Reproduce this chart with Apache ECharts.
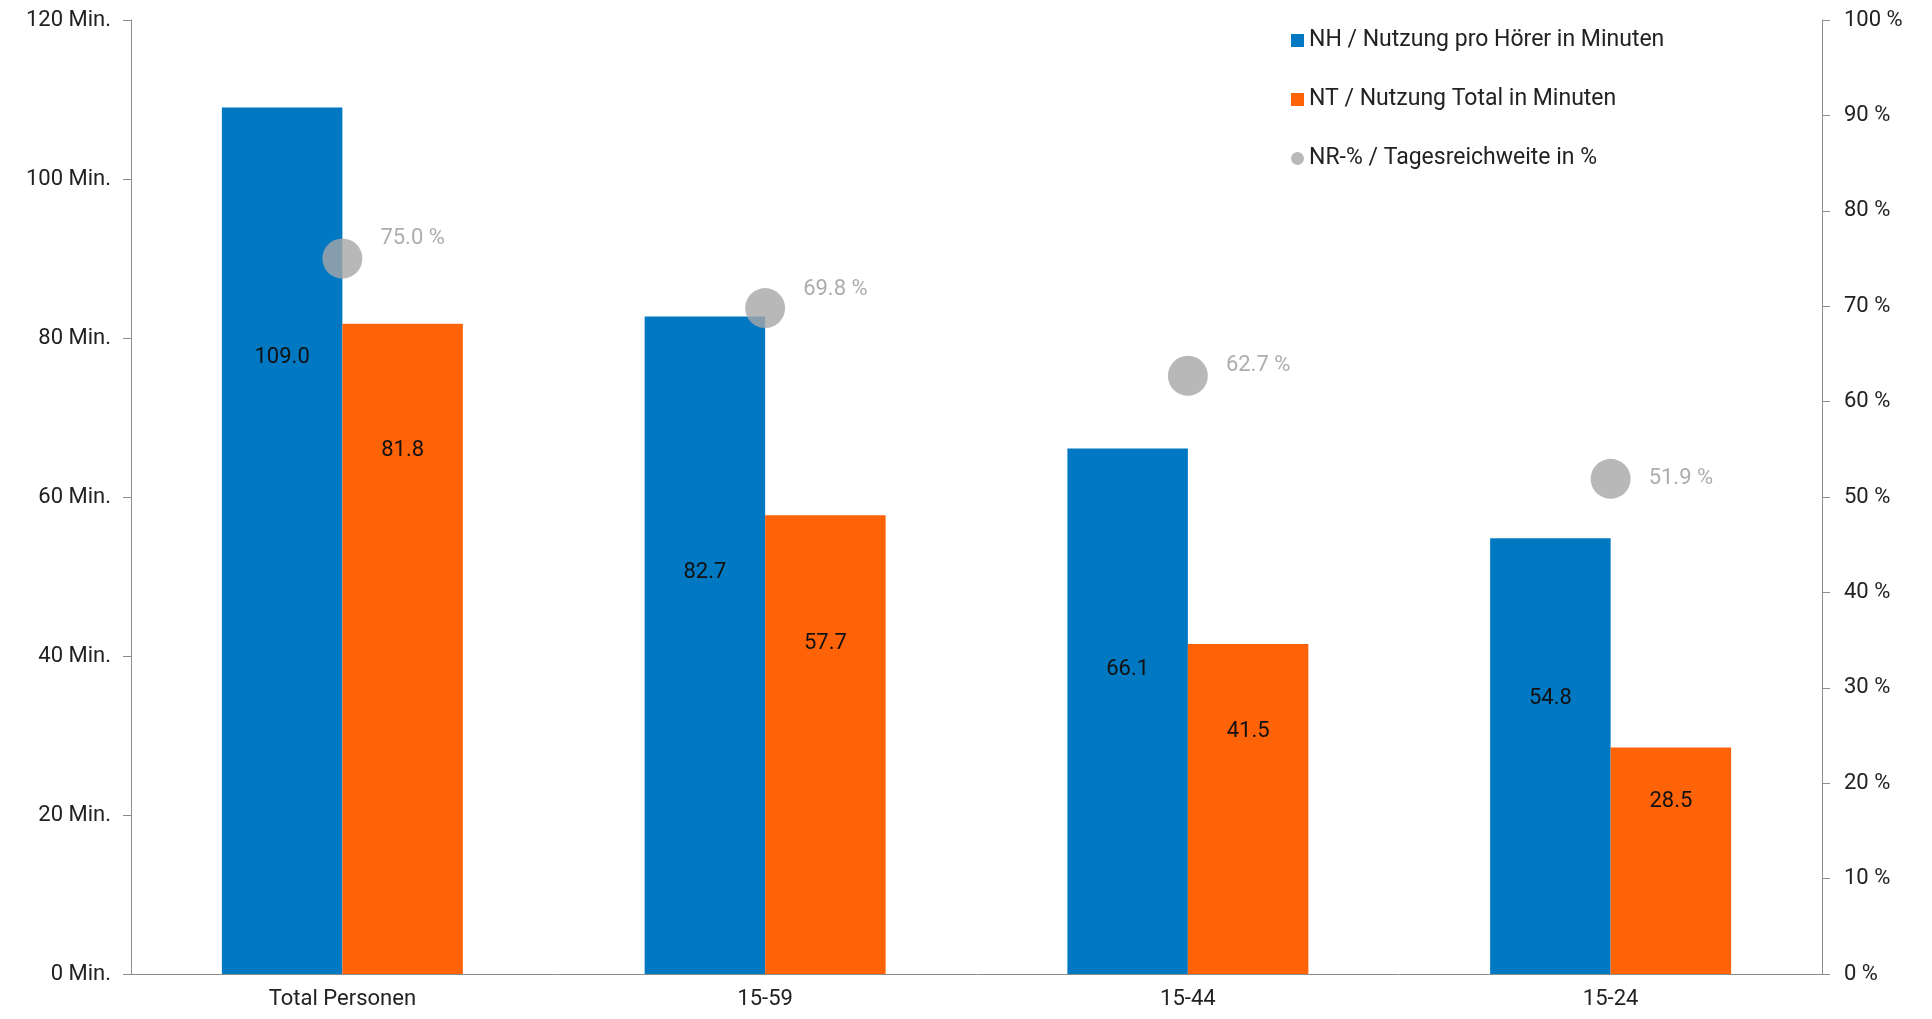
<!DOCTYPE html>
<html>
<head>
<meta charset="utf-8"/>
<script src="https://cdn.jsdelivr.net/npm/echarts@6/dist/echarts.min.js"></script>
<style>html,body{margin:0;padding:0;background:#fff}</style>
</head>
<body>
<div id="chart" style="width:1932px;height:1019px;"></div>
<script>
var categories = ['Total Personen', '15-59', '15-44', '15-24'];
var nhValues = [109.0, 82.7, 66.1, 54.8];
var ntValues = [81.8, 57.7, 41.5, 28.5];
var nrValues = [75.0, 69.8, 62.7, 51.9];
// label shifts, roughly where the original puts them
var nhLabelShift = [-183, -73, -42, -58];
var ntLabelShift = [-198, -101, -78, -59];
var nrLabelShift = [-20, -19, -10, 0];

var font = 'Roboto';
var axisColor = '#8c8c8c';

var chart = echarts.init(document.getElementById('chart'));

function barData(vals, shifts) {
    return vals.map(function (v, i) {
        return {value: v, label: {offset: [0, shifts[i]]}};
    });
}

chart.setOption({
    animation: false,
    textStyle: {fontFamily: font},
    grid: {left: 131, right: 110, top: 20, bottom: 45},
    legend: {
        orient: 'vertical',
        left: 1286, top: 24,
        itemGap: 36, itemWidth: 13, itemHeight: 13,
        textStyle: {fontSize: 23, color: '#222', fontFamily: font},
        data: [
            {name: 'NH / Nutzung pro Hörer in Minuten', icon: 'rect'},
            {name: 'NT / Nutzung Total in Minuten', icon: 'rect'},
            {name: 'NR-% / Tagesreichweite in %', icon: 'circle'}
        ]
    },
    xAxis: {
        type: 'category',
        data: categories,
        axisLine: {lineStyle: {color: axisColor}},
        axisTick: {length: 8, lineStyle: {color: axisColor}},
        axisLabel: {fontSize: 22, color: '#222', margin: 14}
    },
    yAxis: [{
        type: 'value', min: 0, max: 120, interval: 20,
        axisLine: {show: true, lineStyle: {color: axisColor}},
        axisTick: {show: true, length: 8, lineStyle: {color: axisColor}},
        splitLine: {show: false},
        axisLabel: {fontSize: 22, color: '#222', margin: 20, formatter: '{value} Min.'}
    }, {
        type: 'value', min: 0, max: 100, interval: 10,
        axisLine: {show: true, lineStyle: {color: axisColor}},
        axisTick: {show: true, length: 8, lineStyle: {color: axisColor}},
        splitLine: {show: false},
        axisLabel: {fontSize: 22, color: '#222', margin: 22, formatter: '{value} %'}
    }],
    series: [{
        name: 'NH / Nutzung pro Hörer in Minuten',
        type: 'bar',
        data: barData(nhValues, nhLabelShift),
        barGap: '0%', barCategoryGap: '43%',
        itemStyle: {color: '#0079c2'},
        label: {show: true, position: 'inside', fontSize: 22, color: '#111',
            formatter: function (p) { return p.value.toFixed(1); }}
    }, {
        name: 'NT / Nutzung Total in Minuten',
        type: 'bar',
        data: barData(ntValues, ntLabelShift),
        itemStyle: {color: '#ff6308'},
        label: {show: true, position: 'inside', fontSize: 22, color: '#111',
            formatter: function (p) { return p.value.toFixed(1); }}
    }, {
        name: 'NR-% / Tagesreichweite in %',
        type: 'scatter',
        yAxisIndex: 1,
        data: nrValues.map(function (v, i) {
            return {value: v, label: {offset: [0, nrLabelShift[i]]}};
        }),
        symbolSize: 40,
        itemStyle: {color: '#a6a6a6'},
        label: {show: true, position: 'right', distance: 18,
            fontSize: 22, color: '#999',
            formatter: function (p) { return p.value.toFixed(1) + ' %'; }}
    }]
});
</script>
</body>
</html>
